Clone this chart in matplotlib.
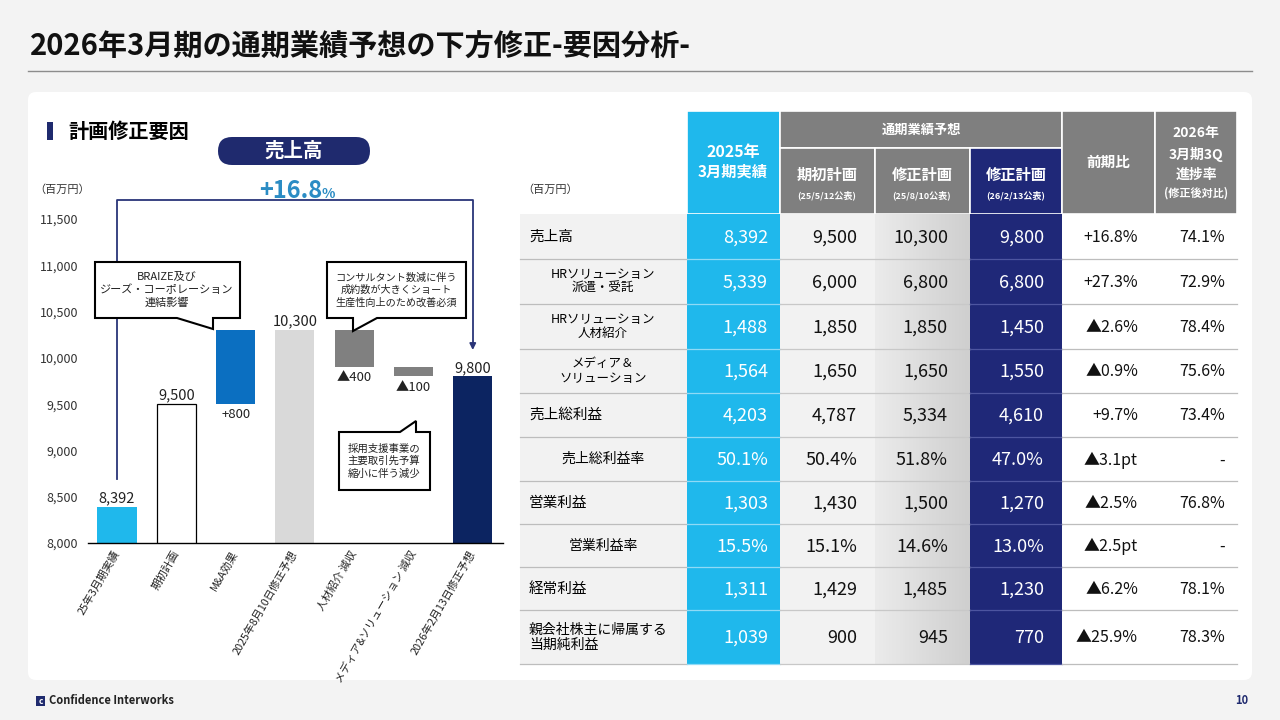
import numpy as np
import matplotlib.pyplot as plt
from matplotlib.patches import Rectangle, FancyBboxPatch, Polygon

plt.rcParams['font.family'] = ['Noto Sans CJK JP', 'DejaVu Sans']

W, H = 1280, 720

# dane - wykres kaskadowy (sprzedaz, mln jenow)
wf_labels = ['25年3月期実績', '期初計画', 'M&A効果', '2025年8月10日修正予想',
             '人材紹介 減収', 'メディア&ソリューション 減収', '2026年2月13日修正予想']
wf_values = [8392, 9500, 800, 10300, -400, -100, 9800]
wf_kind = ['total', 'total', 'delta', 'total', 'delta', 'delta', 'total']
wf_colors = ['#1fb8ec', '#ffffff', '#0b6fc1', '#d9d9d9', '#808080', '#808080', '#0c2461']
wf_edges = ['none', '#000000', 'none', 'none', 'none', 'none', 'none']
yoy_sales = 16.8

# dane - tabela
row_names = ['売上高', 'HRソリューション\n派遣・受託', 'HRソリューション\n人材紹介',
             'メディア＆\nソリューション', '売上総利益', '売上総利益率', '営業利益',
             '営業利益率', '経常利益', '親会社株主に帰属する\n当期純利益']
row_style = ['main', 'sub', 'sub', 'sub', 'main', 'rate', 'main', 'rate', 'main', 'main']
actual_fy25 = [8392, 5339, 1488, 1564, 4203, 50.1, 1303, 15.5, 1311, 1039]
plan_initial = [9500, 6000, 1850, 1650, 4787, 50.4, 1430, 15.1, 1429, 900]
plan_aug = [10300, 6800, 1850, 1650, 5334, 51.8, 1500, 14.6, 1485, 945]
plan_feb = [9800, 6800, 1450, 1550, 4610, 47.0, 1270, 13.0, 1230, 770]
yoy = [16.8, 27.3, -2.6, -0.9, 9.7, -3.1, -2.5, -2.5, -6.2, -25.9]
progress = [74.1, 72.9, 78.4, 75.6, 73.4, None, 76.8, None, 78.1, 78.3]

SKY = '#1fb8ec'
NAVY = '#1f2878'
GRAY = '#7f7f7f'
PILL = '#1f2a6e'


def fmt_val(v, rate):
    return f'{v:.1f}%' if rate else f'{v:,.0f}'


def fmt_yoy(v, rate):
    unit = 'pt' if rate else '%'
    sign = '+' if v > 0 else '▲'
    return f'{sign}{abs(v):.1f}{unit}'


def px(x0, y0, x1, y1):
    return [x0 / W, 1 - y1 / H, (x1 - x0) / W, (y1 - y0) / H]


fig = plt.figure(figsize=(12.8, 7.2), dpi=100, facecolor='#f3f3f3')

# tlo / tabela (wspolrzedne w pikselach)
bg = fig.add_axes([0, 0, 1, 1], zorder=0)
bg.axis('off')

bg.add_patch(FancyBboxPatch((28, 92), 1224, 588, boxstyle='round,pad=0,rounding_size=8',
                            fc='white', ec='none', zorder=0))
bg.text(30, 47, '2026年3月期の通期業績予想の下方修正-要因分析-', fontsize=21,
        fontweight='bold', va='center', ha='left', color='#111111')
bg.plot([28, 1252], [71, 71], color='#8c8c8c', lw=1)

# stopka
bg.add_patch(Rectangle((36, 696), 9, 10, fc=PILL, ec='none'))
bg.text(40.5, 701, 'c', color='white', fontsize=6, ha='center', va='center', fontweight='bold')
bg.text(49, 701, 'Confidence Interworks', fontsize=8, fontweight='bold', va='center', color='#222222')
bg.text(1248, 701, '10', fontsize=8, fontweight='bold', va='center', ha='right', color=PILL)

# naglowek lewej czesci
bg.add_patch(Rectangle((47, 122), 6, 18, fc=PILL, ec='none'))
bg.text(68, 131, '計画修正要因', fontsize=14.5, fontweight='bold', va='center')
bg.add_patch(FancyBboxPatch((218, 137), 152, 28, boxstyle='round,pad=0,rounding_size=14',
                            fc=PILL, ec='none'))
bg.text(294, 151, '売上高', fontsize=14, fontweight='bold', color='white', ha='center', va='center')
bg.text(322, 198, f'+{yoy_sales:.1f}', fontsize=17, fontweight='bold', color='#2b8cc4',
        ha='right', va='baseline')
bg.text(322, 198, '%', fontsize=10, fontweight='bold', color='#2b8cc4', ha='left', va='baseline')
bg.text(34, 190, '（百万円）', fontsize=8, va='center', ha='left', color='#333333')

# tabela
col_edges = [520, 687, 780, 875, 970, 1062, 1155, 1237]
row_edges = [214, 259, 304, 349, 393, 437, 481, 524, 567, 610, 664]
hdr_top, hdr_mid = 111, 148

bg.text(522, 190, '（百万円）', fontsize=8, va='center', ha='left', color='#333333')

# komorki naglowka
hdr_cells = [
    (687, hdr_top, 780, 214, SKY),
    (780, hdr_top, 1062, hdr_mid, GRAY),
    (780, hdr_mid, 875, 214, GRAY),
    (875, hdr_mid, 970, 214, GRAY),
    (970, hdr_mid, 1062, 214, NAVY),
    (1062, hdr_top, 1155, 214, GRAY),
    (1155, hdr_top, 1237, 214, GRAY),
]
for x0, y0, x1, y1, c in hdr_cells:
    bg.add_patch(Rectangle((x0, y0), x1 - x0, y1 - y0, fc=c, ec='white', lw=1.2, zorder=1))

wb = dict(color='white', fontweight='bold', ha='center', va='center', zorder=3)
bg.text(733, 152, '2025年', fontsize=11.5, **wb)
bg.text(733, 172, '3月期実績', fontsize=11, **wb)
bg.text(921, 130, '通期業績予想', fontsize=9.5, **wb)
for cx, sub in [(827, '(25/5/12公表)'), (922, '(25/8/10公表)'), (1016, '(26/2/13公表)')]:
    name = '期初計画' if cx == 827 else '修正計画'
    bg.text(cx, 175, name, fontsize=11, **wb)
    bg.text(cx, 195, sub, fontsize=6.5, **wb)
bg.text(1108, 162, '前期比', fontsize=10.5, **wb)
bg.text(1196, 133, '2026年', fontsize=10, **wb)
bg.text(1196, 155, '3月期3Q', fontsize=10, **wb)
bg.text(1196, 175, '進捗率', fontsize=10, **wb)
bg.text(1196, 193, '(修正後対比)', fontsize=8, **wb)

# tlo kolumn
body_top, body_bot = row_edges[0], row_edges[-1]
body_cols = [('#f2f2f2', 520, 687), (SKY, 687, 780), ('#f2f2f2', 780, 875),
             (NAVY, 970, 1062), ('white', 1062, 1237)]
for c, x0, x1 in body_cols:
    bg.add_patch(Rectangle((x0, body_top), x1 - x0, body_bot - body_top, fc=c, ec='none', zorder=1))
grad = np.linspace(0.92, 0.81, 50)[None, :]
bg.imshow(grad, cmap='gray', vmin=0, vmax=1, extent=(875, 970, body_bot, body_top),
          aspect='auto', zorder=1, interpolation='bicubic')

# linie poziome
for y in row_edges[1:]:
    bg.plot([520, 687], [y, y], color='#bdbdbd', lw=0.9, zorder=2)
    bg.plot([687, 780], [y, y], color='#8fdaf6', lw=0.9, zorder=2)
    bg.plot([780, 970], [y, y], color='#c8c8c8', lw=0.9, zorder=2)
    bg.plot([970, 1062], [y, y], color='#4d55a0', lw=0.9, zorder=2)
    bg.plot([1062, 1237], [y, y], color='#bdbdbd', lw=0.9, zorder=2)

right_x = [768, 857, 948, 1044, 1138, 1225]
val_cols = [actual_fy25, plan_initial, plan_aug, plan_feb]
val_colors = ['white', '#111111', '#111111', 'white']
for i, name in enumerate(row_names):
    yc = (row_edges[i] + row_edges[i + 1]) / 2
    st = row_style[i]
    rate = st == 'rate'
    if st == 'main':
        fs = 10.5 if '\n' not in name else 10
        bg.text(529, yc, name, fontsize=fs, ha='left', va='center', linespacing=1.1, zorder=3)
    elif st == 'sub':
        bg.text(603, yc, name, fontsize=9, ha='center', va='center', linespacing=1.15, zorder=3)
    else:
        bg.text(603, yc, name, fontsize=10, ha='center', va='center', zorder=3)
    for j, col in enumerate(val_cols):
        bg.text(right_x[j], yc + 1, fmt_val(col[i], rate), fontsize=13, ha='right', va='center',
                color=val_colors[j], zorder=3)
    bg.text(right_x[4], yc + 1, fmt_yoy(yoy[i], rate), fontsize=11.5, ha='right', va='center',
            color='#111111', zorder=3)
    p = progress[i]
    bg.text(right_x[5], yc + 1, '-' if p is None else f'{p:.1f}%', fontsize=11.5, ha='right',
            va='center', color='#111111', zorder=3)

bg.set_xlim(0, W)
bg.set_ylim(H, 0)

# wykres kaskadowy
ax = fig.add_axes(px(88, 219, 503, 543), zorder=1)
ax.patch.set_alpha(0)

bottoms, heights = [], []
level = 0
for v, k in zip(wf_values, wf_kind):
    if k == 'total':
        bottoms.append(0)
        heights.append(v)
        level = v
    else:
        bottoms.append(level + min(v, 0))
        heights.append(abs(v))
        level += v

x = np.arange(len(wf_values))
ax.bar(x, heights, bottom=bottoms, width=0.66, color=wf_colors, edgecolor=wf_edges, linewidth=0.9)

for xi, v, k, b, h in zip(x, wf_values, wf_kind, bottoms, heights):
    if k == 'total':
        ax.annotate(f'{v:,}', (xi, b + h), xytext=(0, 1), textcoords='offset points',
                    ha='center', va='bottom', fontsize=10.5, color='#222222')
    else:
        txt = f'+{v:,}' if v > 0 else f'▲{-v:,}'
        ax.annotate(txt, (xi, b), xytext=(0, -3), textcoords='offset points',
                    ha='center', va='top', fontsize=9.5, color='#222222')

# klamra +16.8%
line_c = '#2a3578'
top_y = 11700
ax.plot([0, 0, x[-1], x[-1]], [wf_values[0] + 300, top_y, top_y, wf_values[-1] + 360],
        color=line_c, lw=1.3, clip_on=False, zorder=3)
ax.annotate('', xy=(x[-1], wf_values[-1] + 255), xytext=(x[-1], wf_values[-1] + 370),
            arrowprops=dict(arrowstyle='-|>', color=line_c, lw=1.3, mutation_scale=9),
            annotation_clip=False)

ax.set_xlim(-0.49, 6.51)
ax.set_ylim(8000, 11500)
yt = np.arange(8000, 11501, 500)
ax.set_yticks(yt)
ax.set_yticklabels([f'{t:,}' for t in yt], fontsize=9, color='#333333')
ax.tick_params(axis='y', length=0, pad=7)
ax.set_xticks(x)
ax.set_xticklabels(wf_labels, rotation=60, ha='right', va='center', rotation_mode='anchor',
                   fontsize=7.8, color='#222222')
ax.tick_params(axis='x', length=0, pad=6)
for s in ['left', 'right', 'top']:
    ax.spines[s].set_visible(False)
ax.spines['bottom'].set_color('black')
ax.spines['bottom'].set_linewidth(1)

# dymki z komentarzami
ov = fig.add_axes([0, 0, 1, 1], zorder=2)
ov.axis('off')
bubbles = [
    ([(95, 262), (240, 262), (240, 318), (213, 318), (213, 329), (177, 318), (95, 318)],
     (167, 290), 'BRAIZE及び\nジーズ・コーポレーション\n連結影響', 8),
    ([(327, 262), (466, 262), (466, 318), (377, 318), (353, 331), (353, 318), (327, 318)],
     (396, 290), 'コンサルタント数減に伴う\n成約数が大きくショート\n生産性向上のため改善必須', 7.3),
    ([(339, 432), (400, 432), (416, 421), (416, 432), (430, 432), (430, 490), (339, 490)],
     (384, 461), '採用支援事業の\n主要取引先予算\n縮小に伴う減少', 7.5),
]
for pts, (tx, ty), txt, fs in bubbles:
    ov.add_patch(Polygon(pts, closed=True, fc='white', ec='black', lw=1.5, joinstyle='miter'))
    ov.text(tx, ty, txt, fontsize=fs, ha='center', va='center', linespacing=1.25, color='#222222')
ov.set_xlim(0, W)
ov.set_ylim(H, 0)

fig.savefig('out.png', dpi=100, facecolor=fig.get_facecolor())
